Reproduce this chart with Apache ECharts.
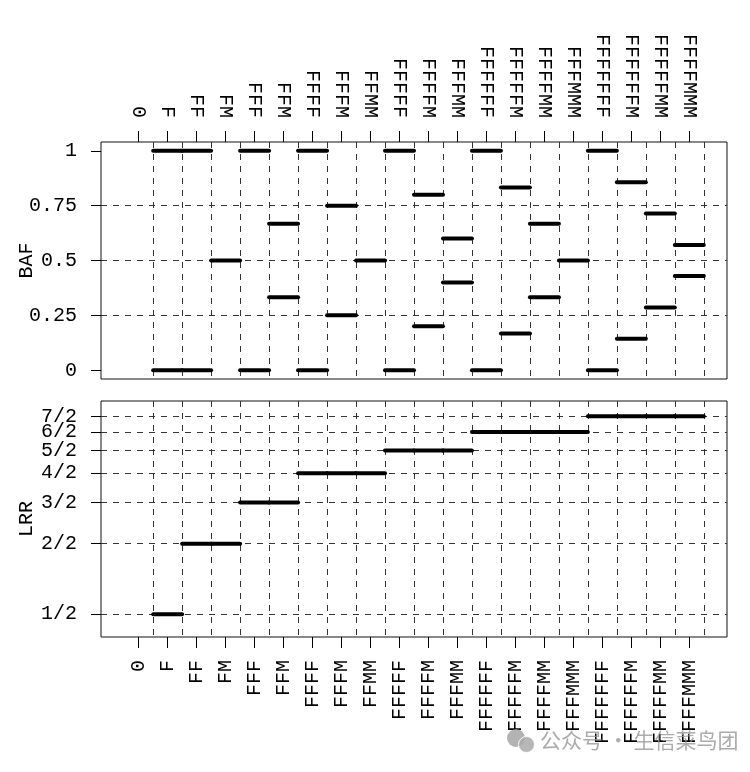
<!DOCTYPE html>
<html>
<head>
<meta charset="utf-8">
<script src="https://cdn.jsdelivr.net/npm/echarts@6/dist/echarts.min.js"></script>
<style>
  html, body { margin: 0; padding: 0; background: #fff; }
  #chart { width: 750px; height: 772px; }
</style>
</head>
<body>
<div id="chart"></div>
<script>
// ---- data ----
const categories = ['0','F','FF','FM','FFF','FFM','FFFF','FFFM','FFMM','FFFFF','FFFFM','FFFMM',
  'FFFFFF','FFFFFM','FFFFMM','FFFMMM','FFFFFFF','FFFFFFM','FFFFFMM','FFFFMMM'];
// B-allele frequency segments (upper / lower) per genotype; null = no BAF
const bafUpper = [null,1,1,0.5,1,0.667,1,0.75,0.5,1,0.8,0.6,1,0.833,0.667,0.5,1,0.857,0.714,0.571];
const bafLower = [null,0,0,0.5,0,0.333,0,0.25,0.5,0,0.2,0.4,0,0.167,0.333,0.5,0,0.143,0.286,0.429];
// total copy number per genotype (LRR = log2(copies/2))
const copyNumber = [0,1,2,2,3,3,4,4,4,5,5,5,6,6,6,6,7,7,7,7];
// tick labels
const bafTicks = [0, 0.25, 0.5, 0.75, 1];
const bafGridLines = [0.25, 0.5, 0.75];
const lrrTickCopies = [1,2,3,4,5,6,7];
const lrrTickLabels = ['1/2','2/2','3/2','4/2','5/2','6/2','7/2'];

// ---- build ----
const catIdx = categories.map((_, i) => i);
const boundaries = categories.map((_, i) => i + 0.5);
const bafData = [];
categories.forEach((c, i) => {
  if (bafUpper[i] !== null) bafData.push([i, bafUpper[i]]);
  if (bafLower[i] !== null && bafLower[i] !== bafUpper[i]) bafData.push([i, bafLower[i]]);
});
const lrrData = [];
categories.forEach((c, i) => {
  if (copyNumber[i] > 0) lrrData.push([i, Math.log2(copyNumber[i] / 2)]);
});
const lrrTickVals = lrrTickCopies.map(n => Math.log2(n / 2));
// split ticks into two interleaved sets so close labels are never dropped
const lrrOdd = lrrTickVals.filter((v, k) => k % 2 === 0);
const lrrEven = lrrTickVals.filter((v, k) => k % 2 === 1);
const lrrFmt = v => { const k = lrrTickVals.findIndex(t => Math.abs(t - v) < 1e-6); return k >= 0 ? lrrTickLabels[k] : ''; };

const FONT = 'Liberation Mono';
const txt = { fontFamily: FONT, fontSize: 20, color: '#000' };
const dash = { show: true, lineStyle: { color: '#333', width: 1, type: [6, 6] } };
const noLine = { show: false, onZero: false };
const nameOpts = n => ({ name: n, nameLocation: 'middle', nameGap: 64, nameRotate: 90, nameMoveOverlap: false,
  nameTextStyle: Object.assign({ verticalAlign: 'bottom' }, txt) });

function segItem(params, api) {
  const i = api.value(0), y = api.value(1);
  const p0 = api.coord([i - 0.5, y]);
  const p1 = api.coord([i + 0.5, y]);
  return { type: 'line', shape: { x1: p0[0], y1: p0[1], x2: p1[0], y2: p1[1] },
    style: { stroke: '#000', lineWidth: 4, lineCap: 'round' } };
}

const xCommon = { type: 'value', min: -1.3, max: 20.3, axisLine: noLine };
function lrrAxis(vals, withName) {
  const a = { type: 'value', gridIndex: 1, position: 'left', min: -1.324, max: 2.024, axisLine: noLine,
    axisTick: { show: true, length: 10, lineStyle: { color: '#000' }, customValues: vals },
    axisLabel: Object.assign({ margin: 24, customValues: vals, showMinLabel: true, showMaxLabel: true,
      formatter: lrrFmt }, txt),
    splitLine: dash };
  if (withName) Object.assign(a, nameOpts('LRR'));
  return a;
}

const option = {
  backgroundColor: '#fff',
  animation: false,
  grid: [
    { left: 101, top: 142, width: 626, height: 237, show: true, borderColor: '#111', borderWidth: 1,
      backgroundColor: 'transparent', containLabel: false, outerBoundsMode: 'none' },
    { left: 101, top: 401, width: 626, height: 236, show: true, borderColor: '#111', borderWidth: 1,
      backgroundColor: 'transparent', containLabel: false, outerBoundsMode: 'none' }
  ],
  xAxis: [
    Object.assign({}, xCommon, { gridIndex: 0, position: 'top',
      axisTick: { show: true, length: 11, lineStyle: { color: '#000' }, customValues: catIdx },
      axisLabel: Object.assign({ show: true, rotate: 90, margin: 24, customValues: catIdx,
        showMinLabel: true, showMaxLabel: true,
        formatter: v => categories[Math.round(v)] }, txt),
      splitLine: { show: false } }),
    Object.assign({}, xCommon, { gridIndex: 0, position: 'top',
      axisTick: { show: false, customValues: boundaries }, axisLabel: { show: false }, splitLine: dash }),
    Object.assign({}, xCommon, { gridIndex: 1, position: 'bottom',
      axisTick: { show: true, length: 11, lineStyle: { color: '#000' }, customValues: catIdx },
      axisLabel: Object.assign({ show: true, rotate: 90, margin: 23, customValues: catIdx,
        showMinLabel: true, showMaxLabel: true,
        formatter: v => categories[Math.round(v)] }, txt),
      splitLine: { show: false } }),
    Object.assign({}, xCommon, { gridIndex: 1, position: 'bottom',
      axisTick: { show: false, customValues: boundaries }, axisLabel: { show: false }, splitLine: dash })
  ],
  yAxis: [
    Object.assign({ type: 'value', gridIndex: 0, position: 'left', min: -0.04, max: 1.04, axisLine: noLine,
      axisTick: { show: true, length: 10, lineStyle: { color: '#000' }, customValues: bafTicks },
      axisLabel: Object.assign({ margin: 24, customValues: bafTicks, showMinLabel: true, showMaxLabel: true,
        formatter: v => String(v) }, txt),
      splitLine: { show: false } }, nameOpts('BAF')),
    { type: 'value', gridIndex: 0, position: 'left', min: -0.04, max: 1.04, axisLine: noLine,
      axisTick: { show: false, customValues: bafGridLines }, axisLabel: { show: false }, splitLine: dash },
    lrrAxis(lrrOdd, true),
    lrrAxis(lrrEven, false)
  ],
  series: [
    { type: 'custom', xAxisIndex: 0, yAxisIndex: 0, data: bafData, renderItem: segItem, z: 5 },
    { type: 'custom', xAxisIndex: 2, yAxisIndex: 2, data: lrrData, renderItem: segItem, z: 5 }
  ],
  graphic: [
    { type: 'circle', left: 507, top: 729, shape: { r: 9 }, style: { fill: 'rgba(160,160,160,0.8)' }, z: 100 },
    { type: 'circle', left: 518, top: 736, shape: { r: 8 }, style: { fill: 'rgba(170,170,170,0.85)', stroke: '#fff', lineWidth: 1 }, z: 101 },
    { type: 'text', left: 540, top: 730, z: 100,
      style: { text: '公众号 · 生信菜鸟团', fill: 'rgba(150,150,150,0.8)', fontSize: 21,
        fontFamily: 'Noto Sans CJK SC' } }
  ]
};

const chart = echarts.init(document.getElementById('chart'), null, { renderer: 'canvas' });
chart.setOption(option);
</script>
</body>
</html>
